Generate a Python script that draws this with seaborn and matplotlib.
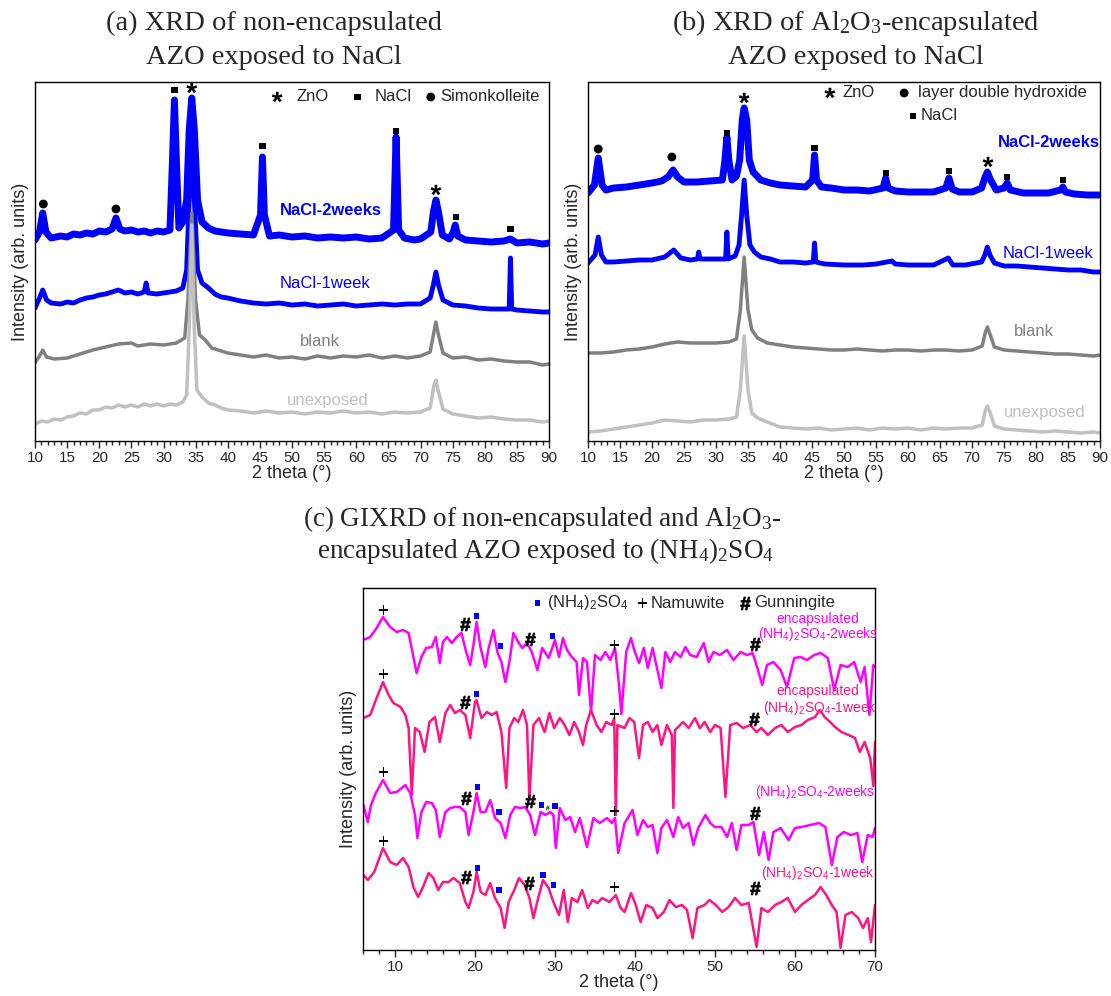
import matplotlib
matplotlib.use("Agg")
import numpy as np
import pandas as pd
import matplotlib.pyplot as plt
from matplotlib.ticker import MultipleLocator
from matplotlib.textpath import TextPath
from matplotlib.font_manager import FontProperties
from matplotlib.path import Path
import seaborn as sns

# ---- data (2 theta, intensity in arb. units, stacked as in the figure) ----
# panel (a) non-encapsulated AZO, NaCl
a_unexp = [(10, 17), (11, 20), (12, 19), (13, 22), (14, 21), (15, 24), (16, 25), (17, 28), (18, 27), (19, 31),
           (20, 31), (21, 34), (22, 33), (23, 36), (24, 34), (25, 36), (26, 34), (27, 37), (28, 35), (29, 37),
           (30, 35), (31, 37), (32, 36), (33, 39), (33.6, 46), (34.0, 111), (34.4, 216), (34.8, 111), (35.2, 51),
           (36, 44), (37, 38), (38, 36), (39, 33), (40, 31), (42, 30), (44, 28), (46, 30), (48, 28), (50, 29),
           (52, 27), (54, 29), (56, 28), (58, 30), (60, 28), (62, 29), (64, 27), (66, 29), (68, 28), (70, 29),
           (71.5, 33), (72.1, 56), (72.4, 61), (72.8, 49), (73.5, 32), (75, 27), (77, 25), (79, 23), (81, 24),
           (83, 22), (85, 21), (87, 21), (89, 19), (90, 20)]
a_blank = [(10, 78), (10.8, 86), (11.2, 91), (11.8, 84), (13, 82), (15, 83), (17, 87), (19, 91), (21, 94),
           (23, 97), (25, 98), (26, 95), (28, 97), (30, 96), (32, 98), (33.3, 103), (33.8, 141), (34.4, 228),
           (35.0, 141), (35.6, 106), (36.5, 101), (37.5, 93), (38.5, 91), (40, 88), (42, 86), (44, 84), (46, 86),
           (48, 83), (50, 84), (52, 82), (54, 85), (56, 83), (58, 85), (60, 84), (62, 86), (64, 83), (66, 85),
           (68, 83), (70, 85), (71.5, 89), (72.0, 106), (72.4, 119), (72.8, 106), (73.5, 88), (75, 83), (77, 84),
           (79, 81), (81, 82), (83, 80), (85, 79), (87, 79), (89, 76), (90, 77)]
a_1week = [(10, 133), (10.7, 143), (11.2, 151), (11.8, 141), (12.5, 138), (14, 137), (15, 139), (16, 138),
           (17, 141), (18, 143), (19, 144), (20, 146), (21, 147), (22, 149), (23, 151), (24, 148), (25, 149),
           (26, 147), (27, 149), (27.3, 158), (27.6, 148), (29, 147), (30, 148), (31, 149), (32, 150), (33, 153),
           (33.6, 171), (34.0, 241), (34.4, 301), (34.8, 241), (35.3, 171), (36, 158), (37, 153), (38, 147),
           (39, 144), (40, 143), (42, 140), (44, 138), (46, 137), (48, 138), (50, 136), (52, 137), (54, 135),
           (56, 136), (58, 137), (60, 135), (62, 136), (64, 137), (66, 136), (68, 137), (70, 137), (71.5, 143),
           (72.0, 156), (72.4, 169), (72.8, 156), (73.5, 141), (75, 136), (77, 135), (79, 133), (81, 132),
           (83, 132), (83.8, 132), (84.0, 183), (84.2, 132), (85, 131), (87, 130), (89, 129), (90, 129)]
a_2weeks = [(10, 201), (10.7, 209), (11.2, 228), (11.7, 209), (12.5, 203), (14, 205), (15, 204), (16, 207),
            (17, 206), (18, 208), (19, 207), (20, 210), (21, 209), (22, 212), (22.6, 223), (23.2, 212), (24, 210),
            (25, 211), (26, 209), (27, 210), (28, 208), (29, 210), (30, 209), (31, 211), (31.4, 281), (31.7, 341),
            (32.0, 281), (32.4, 213), (33.0, 219), (33.6, 241), (34.0, 311), (34.4, 343), (34.8, 311), (35.3, 241),
            (36, 219), (37, 213), (38, 210), (40, 208), (42, 207), (44, 206), (45.1, 226), (45.4, 284), (45.7, 226),
            (46.5, 205), (48, 206), (50, 204), (52, 205), (54, 203), (56, 204), (58, 203), (60, 204), (62, 202),
            (64, 203), (65.8, 211), (66.2, 304), (66.6, 211), (67.5, 203), (69, 201), (70, 202), (71.6, 209),
            (72.0, 229), (72.4, 241), (72.8, 229), (73.4, 206), (74.5, 202), (75.1, 209), (75.4, 216), (75.8, 205),
            (77, 201), (79, 200), (81, 199), (83, 200), (84, 202), (85, 198), (87, 199), (89, 197), (90, 198)]
a_zno = [(34.4, 353), (72.4, 251)]
a_nacl = [(31.7, 351), (45.4, 295), (66.2, 310), (75.5, 224), (84.0, 212)]
a_simon = [(11.3, 237), (22.6, 232)]

# panel (b) Al2O3-encapsulated AZO, NaCl
b_unexp = [(10, 9), (12, 10), (14, 12), (15, 13), (16, 14), (18, 16), (20, 18), (22, 21), (24, 20), (26, 19),
           (28, 21), (30, 21), (32, 22), (33.2, 24), (33.8, 51), (34.4, 105), (35.0, 51), (35.6, 28), (36.5, 23),
           (38, 19), (40, 14), (42, 13), (44, 12), (46, 13), (48, 11), (50, 12), (52, 13), (54, 11), (56, 13),
           (58, 12), (60, 13), (62, 11), (64, 13), (66, 12), (68, 13), (70, 13), (71.6, 16), (72.1, 31), (72.4, 35),
           (72.8, 29), (73.5, 15), (75, 12), (77, 11), (79, 10), (81, 9), (83, 10), (85, 9), (87, 8), (89, 9), (90, 8)]
b_blank = [(10, 88), (12, 88), (14, 89), (16, 91), (18, 92), (20, 94), (22, 97), (24, 99), (26, 98), (28, 98),
           (30, 98), (32, 99), (33.2, 102), (33.8, 131), (34.4, 184), (35.0, 131), (35.6, 111), (36.5, 103),
           (38, 98), (40, 96), (42, 94), (44, 93), (46, 92), (48, 91), (50, 91), (52, 92), (54, 91), (56, 90),
           (58, 91), (60, 91), (62, 90), (64, 91), (66, 91), (68, 90), (70, 91), (71.6, 95), (72.1, 109),
           (72.4, 114), (72.8, 107), (73.5, 94), (75, 91), (77, 90), (79, 89), (81, 88), (83, 87), (85, 87),
           (87, 86), (89, 85), (90, 86)]
b_1week = [(10, 178), (11.1, 186), (11.6, 204), (12.1, 186), (12.8, 179), (14, 179), (16, 180), (18, 181),
           (20, 181), (22, 184), (23.4, 191), (24.5, 183), (26, 181), (27.1, 182), (27.3, 189), (27.5, 182),
           (29, 182), (31.5, 182), (31.7, 209), (31.9, 182), (33.0, 185), (33.6, 196), (34.0, 226), (34.4, 261),
           (34.8, 226), (35.3, 196), (36, 189), (37, 184), (38.5, 182), (40, 179), (42, 179), (44, 178),
           (45.2, 179), (45.4, 198), (45.6, 179), (47, 177), (50, 176), (53, 176), (55, 177), (57.5, 180),
           (58, 177), (60, 176), (62, 176), (64, 176), (66.3, 183), (67, 176), (69, 176), (71.5, 179), (72.0, 186),
           (72.4, 194), (72.8, 186), (73.5, 178), (75, 175), (77, 175), (79, 174), (81, 173), (83, 172), (85, 171),
           (87, 171), (89, 169), (90, 169)]
b_2weeks = [(10, 248), (11.0, 256), (11.6, 283), (12.2, 256), (12.8, 251), (14, 253), (16, 254), (18, 256),
            (20, 258), (21.5, 260), (22.5, 264), (23.3, 271), (24.0, 264), (25, 259), (27, 259), (29, 260),
            (31, 261), (31.4, 281), (31.7, 304), (32.0, 281), (32.5, 261), (33.2, 265), (33.7, 281), (34.1, 321),
            (34.4, 333), (34.8, 321), (35.2, 281), (35.8, 269), (37, 261), (38.5, 258), (40, 256), (42, 255),
            (44, 254), (45.1, 261), (45.4, 286), (45.7, 261), (46.5, 254), (48, 253), (50, 251), (52, 251),
            (54, 250), (56.1, 253), (56.5, 263), (56.9, 253), (58, 250), (60, 249), (62, 249), (64, 249),
            (65.9, 253), (66.4, 263), (66.9, 252), (68, 249), (70, 249), (71.5, 253), (72.0, 263), (72.4, 269),
            (72.9, 261), (73.8, 251), (75.0, 253), (75.5, 258), (76.0, 251), (78, 248), (80, 248), (82, 248),
            (83.8, 251), (84.2, 254), (84.6, 249), (86, 247), (88, 246), (90, 246)]
b_zno = [(34.4, 343), (72.5, 279)]
b_nacl = [(31.7, 308), (45.4, 293), (56.6, 268), (66.4, 270), (75.5, 264), (84.2, 261)]
b_ldh = [(11.6, 292), (23.1, 284)]

# panel (c) GIXRD, (NH4)2SO4
c_enc2w = [(6.05, 310), (6.9, 313), (7.7, 322), (8.5, 333), (9.4, 323), (10.2, 318), (11.0, 320), (11.7, 317),
           (12.3, 293), (12.7, 277), (13.3, 293), (13.9, 302), (14.6, 303), (15.1, 313), (15.6, 287), (16.0, 308),
           (16.5, 313), (17.1, 307), (17.7, 313), (18.3, 317), (18.9, 298), (19.4, 285), (19.8, 305), (20.2, 328),
           (20.7, 302), (21.3, 283), (21.7, 302), (22.3, 320), (22.8, 298), (23.3, 288), (23.8, 268), (24.3, 288),
           (24.8, 317), (25.4, 308), (25.9, 302), (26.5, 307), (27.1, 298), (27.8, 280), (28.4, 302), (29.2, 292),
           (30.0, 310), (30.5, 293), (31.0, 312), (31.5, 300), (32.1, 293), (32.7, 288), (33.0, 255), (33.5, 292),
           (34.0, 288), (34.5, 238), (35.0, 295), (35.7, 290), (36.3, 298), (36.9, 290), (37.5, 302), (38.0, 265),
           (38.3, 236), (38.9, 298), (39.5, 312), (39.9, 300), (40.5, 287), (41.1, 302), (41.6, 282), (42.2, 302),
           (42.8, 280), (43.3, 262), (43.8, 298), (44.4, 288), (45.0, 298), (45.7, 293), (46.3, 303), (46.9, 295),
           (47.7, 293), (48.6, 307), (49.2, 288), (49.8, 298), (50.6, 295), (51.5, 300), (52.3, 290), (53.2, 298),
           (54.0, 295), (54.7, 297), (55.3, 282), (55.9, 265), (56.5, 285), (57.3, 288), (58.2, 280), (59.0, 263),
           (59.9, 292), (60.7, 293), (61.5, 290), (62.4, 295), (63.2, 297), (64.1, 292), (64.9, 260), (65.7, 285),
           (66.6, 283), (67.4, 288), (68.2, 268), (68.7, 283), (69.3, 235), (69.8, 285), (70.0, 283)]
c_enc1w = [(6.05, 232), (6.9, 235), (7.7, 252), (8.5, 268), (9.2, 255), (9.8, 247), (10.7, 243), (11.3, 235),
           (11.7, 222), (12.1, 155), (12.5, 222), (13.1, 218), (13.7, 198), (14.3, 228), (15.0, 233), (15.6, 208),
           (16.3, 237), (16.9, 245), (17.5, 237), (18.1, 240), (18.8, 235), (19.4, 212), (20.0, 248), (20.2, 250),
           (20.8, 232), (21.5, 238), (22.1, 235), (22.7, 238), (23.3, 218), (23.9, 162), (24.3, 222), (24.9, 232),
           (25.4, 228), (26.0, 240), (26.5, 225), (26.8, 151), (27.3, 225), (28.0, 232), (28.7, 218), (29.3, 237),
           (29.9, 222), (30.6, 232), (31.2, 225), (31.8, 215), (32.4, 228), (33.0, 218), (33.5, 205), (33.9, 225),
           (34.5, 240), (35.2, 225), (35.8, 218), (36.4, 228), (37.1, 225), (37.4, 232), (37.6, 135), (37.8, 225),
           (38.7, 222), (39.3, 232), (39.9, 228), (40.5, 192), (41.0, 225), (41.6, 228), (42.2, 218), (42.8, 225),
           (43.3, 205), (44.0, 225), (44.6, 215), (44.8, 142), (45.0, 220), (45.4, 223), (46.0, 228), (46.7, 222),
           (47.5, 232), (48.1, 222), (48.7, 228), (49.4, 218), (50.0, 225), (50.7, 222), (51.3, 153), (51.9, 225),
           (52.7, 227), (53.5, 222), (54.4, 225), (55.2, 218), (55.8, 222), (56.6, 215), (57.5, 222), (58.3, 225),
           (59.1, 218), (60.0, 223), (60.8, 225), (61.6, 230), (62.5, 233), (63.1, 240), (63.7, 233), (64.4, 228),
           (65.0, 223), (65.8, 218), (66.7, 215), (67.5, 212), (68.1, 198), (68.7, 208), (69.4, 192), (69.8, 164),
           (70.0, 208)]
c_2w = [(6.05, 145), (6.6, 128), (7.0, 145), (7.6, 157), (8.5, 170), (9.4, 157), (10.2, 158), (11.3, 165),
        (11.9, 157), (12.5, 135), (12.8, 112), (13.3, 138), (13.9, 148), (14.6, 147), (15.1, 140), (15.6, 113),
        (16.3, 138), (16.9, 142), (17.5, 143), (18.1, 143), (18.8, 138), (19.2, 115), (19.8, 138), (20.2, 157),
        (20.7, 138), (21.3, 138), (21.9, 150), (22.5, 132), (23.2, 127), (23.8, 112), (24.4, 135), (25.0, 143),
        (25.7, 142), (26.3, 143), (26.9, 135), (27.5, 115), (28.2, 138), (28.8, 135), (29.4, 138), (29.8, 135),
        (30.1, 102), (30.6, 142), (31.3, 130), (31.9, 133), (32.5, 118), (33.1, 132), (34.0, 103), (34.8, 132),
        (35.6, 127), (36.5, 132), (37.1, 127), (37.5, 132), (37.9, 97), (38.7, 127), (39.7, 140), (40.3, 115),
        (41.0, 130), (41.6, 123), (42.2, 125), (42.8, 97), (43.3, 122), (44.0, 130), (44.8, 113), (45.4, 133),
        (46.0, 122), (46.7, 127), (47.3, 105), (47.9, 122), (48.8, 135), (49.4, 127), (50.0, 123), (50.8, 123),
        (51.5, 113), (52.1, 127), (52.7, 100), (53.3, 125), (54.2, 125), (54.8, 128), (55.5, 95), (56.1, 118),
        (56.7, 90), (57.3, 118), (58.2, 122), (59.2, 110), (60.0, 122), (60.8, 123), (61.9, 125), (63.0, 127),
        (63.8, 123), (64.6, 85), (65.3, 113), (66.1, 118), (67.0, 115), (67.8, 117), (68.4, 88), (69.1, 115),
        (69.7, 113), (70.0, 122)]
c_1w = [(6.05, 75), (6.6, 70), (7.4, 78), (8.5, 102), (9.4, 88), (10.2, 85), (11.0, 92), (11.7, 83), (12.3, 63),
        (12.9, 53), (13.5, 63), (14.2, 77), (14.8, 72), (15.4, 60), (16.0, 68), (16.7, 68), (17.3, 72), (18.1, 67),
        (18.8, 48), (19.2, 42), (19.8, 58), (20.2, 78), (20.7, 58), (21.3, 55), (21.9, 67), (22.5, 52), (23.2, 42),
        (23.7, 22), (24.2, 48), (24.9, 60), (25.5, 72), (26.2, 65), (26.8, 52), (27.3, 32), (27.9, 52), (28.5, 70),
        (29.2, 62), (29.8, 48), (30.5, 35), (31.1, 60), (31.6, 28), (32.1, 52), (32.8, 48), (33.4, 60), (34.1, 42),
        (34.7, 50), (35.3, 47), (35.9, 52), (36.8, 48), (37.6, 55), (38.2, 42), (38.7, 38), (39.5, 57), (40.1, 45),
        (40.7, 28), (41.4, 45), (42.2, 42), (42.8, 32), (43.6, 38), (44.3, 50), (45.1, 43), (45.9, 45), (46.5, 40),
        (47.2, 12), (47.8, 42), (48.7, 45), (49.3, 50), (50.1, 45), (50.9, 38), (51.7, 43), (52.5, 52), (53.3, 45),
        (54.2, 47), (55.2, 3), (55.8, 42), (56.6, 38), (57.5, 45), (58.3, 48), (59.1, 52), (60.0, 38), (60.8, 45),
        (61.6, 50), (62.5, 55), (63.2, 63), (63.9, 55), (64.6, 45), (65.2, 38), (65.7, 2), (66.3, 35), (67.1, 38),
        (67.9, 32), (68.5, 22), (69.1, 32), (69.5, 8), (70.0, 45)]
c_sulf = [(20.2, 334), (23.2, 304), (29.7, 314), (20.2, 256), (20.3, 163), (23.0, 138), (28.3, 145), (30.0, 144),
          (20.3, 82), (23.0, 60), (28.5, 75), (29.8, 65)]
c_namu = [(8.6, 340), (37.4, 305), (8.6, 276), (37.4, 236), (8.6, 178), (37.4, 139), (8.6, 109), (37.4, 63)]
c_gunn = [(18.8, 326), (26.9, 311), (55.0, 306), (18.7, 248), (54.9, 231), (18.9, 152), (26.9, 149), (55.0, 137),
          (18.9, 73), (26.8, 67), (55.0, 62)]
c_gunn_small = [(29.1, 142)]

BLUE = "#0000ff"
DGRAY = "#808080"
LGRAY = "#c0c0c0"
MAG = "#ff00ff"
PINK = "#ff1482"

sns.set_style("ticks")
plt.rcParams['font.family'] = ['Liberation Sans', 'DejaVu Sans']
plt.rcParams['axes.linewidth'] = 1.0

W, H = 1111, 996
fig = plt.figure(figsize=(W / 100, H / 100), dpi=100)


def glyph(ch, bold=True):
    # marker shaped like the Arial glyph, centred on its own ink box
    tp = TextPath((0, 0), ch, size=1,
                  prop=FontProperties(family="Liberation Sans", weight="bold" if bold else "normal"))
    v = tp.vertices.copy()
    codes = tp.codes
    for i, c in enumerate(codes):
        if c == Path.CLOSEPOLY:
            v[i] = v[i - 1]
    cx = (v[:, 0].min() + v[:, 0].max()) / 2
    cy = (v[:, 1].min() + v[:, 1].max()) / 2
    return Path(v - [cx, cy], codes)


STAR = glyph("*")
PLUS = glyph("+", bold=False)
HASH = glyph("#")


def px_axes(left, right, top, bottom):
    return fig.add_axes([left / W, 1 - bottom / H, (right - left) / W, (bottom - top) / H])


def curve(ax, pts, color, lw):
    df = pd.DataFrame(pts, columns=["tt", "inten"])
    sns.lineplot(data=df, x="tt", y="inten", ax=ax, color=color, lw=lw,
                 estimator=None, sort=False, legend=False)


def marks(ax, pts, marker, s, color="black", edge=0):
    df = pd.DataFrame(pts, columns=["tt", "inten"])
    sns.scatterplot(data=df, x="tt", y="inten", ax=ax, marker=marker, s=s, color=color,
                    edgecolor=color if edge else "none", linewidth=edge, legend=False, zorder=5)


def style(ax, xlim, ylim, major, minor):
    ax.set_xlim(*xlim)
    ax.set_ylim(*ylim)
    ax.set_yticks([])
    ax.xaxis.set_major_locator(MultipleLocator(major))
    ax.xaxis.set_minor_locator(MultipleLocator(minor))
    ax.tick_params(axis="x", which="major", direction="out", length=5, width=1, labelsize=11, pad=2)
    ax.tick_params(axis="x", which="minor", direction="out", length=3, width=1)
    for sp in ax.spines.values():
        sp.set_visible(True)
        sp.set_color("black")
        sp.set_linewidth(1)
    ax.set_xlabel("2 theta (°)", fontsize=13, labelpad=0)
    ax.set_ylabel("Intensity (arb. units)", fontsize=13, labelpad=4)


SERIF = ["Liberation Serif", "DejaVu Serif"]
sub = lambda t: r"$\mathregular{_" + t + "}$"

# ---------------- panel (a) ----------------
ax = px_axes(35, 549, 82, 441)
curve(ax, a_2weeks, BLUE, 5)
curve(ax, a_1week, BLUE, 3.5)
curve(ax, a_blank, DGRAY, 2.5)
curve(ax, a_unexp, LGRAY, 2.5)
marks(ax, a_zno, STAR, 60)
marks(ax, a_nacl, "s", 20)
marks(ax, a_simon, "o", 40)
style(ax, (10, 90), (0, 359), 5, 1)
ax.text(56.1, 230, "NaCl-2weeks", color=BLUE, fontsize=12, fontweight="bold", ha="center", va="center")
ax.text(55.2, 158, "NaCl-1week", color=BLUE, fontsize=12, ha="center", va="center")
ax.text(54.4, 100, "blank", color=DGRAY, fontsize=12, ha="center", va="center")
ax.text(55.5, 41, "unexposed", color=LGRAY, fontsize=12, ha="center", va="center")
marks(ax, [(47.7, 344)], STAR, 60)
marks(ax, [(60.2, 344)], "s", 20)
marks(ax, [(71.6, 344)], "o", 40)
ax.text(50.7, 344, "ZnO", fontsize=12, ha="left", va="center")
ax.text(62.9, 344, "NaCl", fontsize=12, ha="left", va="center")
ax.text(73.1, 344, "Simonkolleite", fontsize=12, ha="left", va="center")

# ---------------- panel (b) ----------------
ax = px_axes(588, 1100, 82, 441)
curve(ax, b_2weeks, BLUE, 5)
curve(ax, b_1week, BLUE, 3.5)
curve(ax, b_blank, DGRAY, 2.5)
curve(ax, b_unexp, LGRAY, 2.5)
marks(ax, b_zno, STAR, 60)
marks(ax, b_nacl, "s", 20)
marks(ax, b_ldh, "o", 40)
style(ax, (10, 90), (0, 359), 5, 1)
ax.text(90, 298, "NaCl-2weeks", color=BLUE, fontsize=12, fontweight="bold", ha="right", va="center")
ax.text(81.9, 188, "NaCl-1week", color=BLUE, fontsize=12, ha="center", va="center")
ax.text(79.6, 109, "blank", color=DGRAY, fontsize=12, ha="center", va="center")
ax.text(81.4, 28, "unexposed", color=LGRAY, fontsize=12, ha="center", va="center")
marks(ax, [(47.8, 348)], STAR, 60)
marks(ax, [(59.4, 348)], "o", 40)
marks(ax, [(60.8, 325)], "s", 20)
ax.text(49.8, 348, "ZnO", fontsize=12, ha="left", va="center")
ax.text(61.6, 348, "layer double hydroxide", fontsize=12, ha="left", va="center")
ax.text(61.9, 325, "NaCl", fontsize=12, ha="left", va="center")

# ---------------- panel (c) ----------------
ax = px_axes(363, 875, 588, 950)
curve(ax, c_enc2w, MAG, 1.8)
curve(ax, c_enc1w, PINK, 1.8)
curve(ax, c_2w, MAG, 1.8)
curve(ax, c_1w, PINK, 1.8)
marks(ax, c_sulf, "s", 16, BLUE)
marks(ax, c_namu, PLUS, 45)
marks(ax, c_gunn, HASH, 85, edge=0.6)
marks(ax, c_gunn_small, HASH, 12)
style(ax, (6, 70), (0, 362), 10, 2)
nh = "(NH" + sub("4") + ")" + sub("2") + "SO" + sub("4")
ax.text(62.9, 331, "encapsulated", color=MAG, fontsize=10, ha="center", va="center")
ax.text(62.9, 316, nh + "-2weeks", color=MAG, fontsize=10, ha="center", va="center")
ax.text(62.9, 259, "encapsulated", color=PINK, fontsize=10, ha="center", va="center")
ax.text(63.1, 242, nh + "-1week", color=PINK, fontsize=10, ha="center", va="center")
ax.text(62.5, 158, nh + "-2weeks", color=MAG, fontsize=10, ha="center", va="center")
ax.text(62.9, 77, nh + "-1week", color=PINK, fontsize=10, ha="center", va="center")
marks(ax, [(27.8, 347)], "s", 16, BLUE)
marks(ax, [(40.9, 347)], PLUS, 45)
marks(ax, [(53.75, 347)], HASH, 85, edge=0.6)
ax.text(29.0, 347, nh, fontsize=12, ha="left", va="center")
ax.text(41.9, 347, "Namuwite", fontsize=12, ha="left", va="center")
ax.text(54.9, 347, "Gunningite", fontsize=12, ha="left", va="center")

# ---------------- titles ----------------
fig.text(274 / W, 1 - 23 / H, "(a) XRD of non-encapsulated", ha="center", va="center", fontsize=20.5, family=SERIF)
fig.text(274 / W, 1 - 57 / H, "AZO exposed to NaCl", ha="center", va="center", fontsize=20.5, family=SERIF)
fig.text(856 / W, 1 - 23 / H, "(b) XRD of Al" + sub("2") + "O" + sub("3") + "-encapsulated",
         ha="center", va="center", fontsize=20.5, family=SERIF)
fig.text(856 / W, 1 - 57 / H, "AZO exposed to NaCl", ha="center", va="center", fontsize=20.5, family=SERIF)
fig.text(542 / W, 1 - 519 / H, "(c) GIXRD of non-encapsulated and Al" + sub("2") + "O" + sub("3") + "-",
         ha="center", va="center", fontsize=19.5, family=SERIF)
fig.text(546 / W, 1 - 551 / H, "encapsulated AZO exposed to (NH" + sub("4") + ")" + sub("2") + "SO" + sub("4"),
         ha="center", va="center", fontsize=19.5, family=SERIF)

fig.savefig("out.png", dpi=100)
